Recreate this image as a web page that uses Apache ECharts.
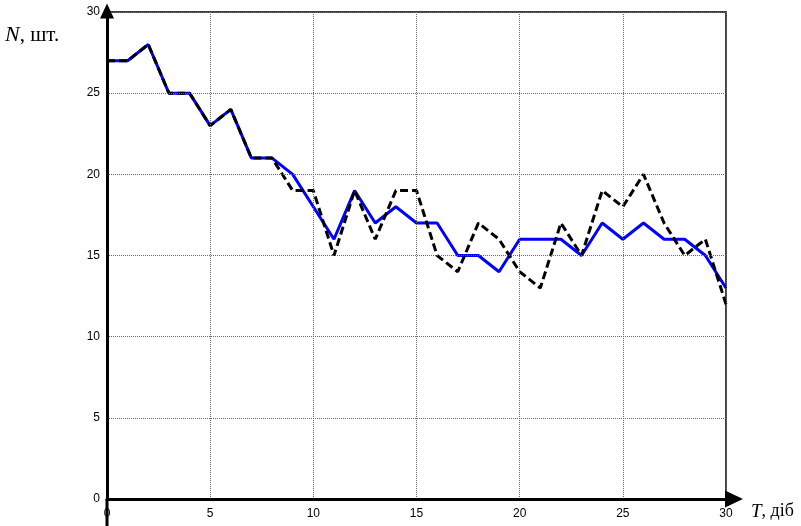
<!DOCTYPE html>
<html>
<head>
<meta charset="utf-8">
<script src="https://cdn.jsdelivr.net/npm/echarts@6/dist/echarts.min.js"></script>
<style>
  html, body { margin: 0; padding: 0; background: #fff; }
  #chart { width: 801px; height: 526px; }
</style>
</head>
<body>
<div id="chart"></div>
<script>
// Days of observation
const days = [0, 1, 2, 3, 4, 5, 6, 7, 8, 9, 10, 11, 12, 13, 14, 15, 16, 17, 18, 19, 20,
              21, 22, 23, 24, 25, 26, 27, 28, 29, 30];
// Smoothed count (solid blue)
const modelCount = [27, 27, 28, 25, 25, 23, 24, 21, 21, 20, 18, 16, 19, 17, 18, 17, 17, 15, 15, 14, 16,
                    16, 16, 15, 17, 16, 17, 16, 16, 15, 13];
// Observed count (black dashed)
const observedCount = [27, 27, 28, 25, 25, 23, 24, 21, 21, 19, 19, 15, 19, 16, 19, 19, 15, 14, 17, 16, 14,
                       13, 17, 15, 19, 18, 20, 17, 15, 16, 12];
// Axis settings
const xTicks = { min: 0, max: 30, interval: 5 };
const yTicks = { min: 0, max: 30, interval: 5 };

const chart = echarts.init(document.getElementById('chart'), null, { renderer: 'canvas' });

const labelFont = { color: '#000', fontFamily: 'Liberation Sans, Arial, sans-serif', fontSize: 12 };
const gridLine = { show: true, lineStyle: { color: '#666', width: 1, type: [1, 1] } };
// Thin frame on the top and right sides
const frameAxis = {
  type: 'value',
  axisLine: { show: true, onZero: false, lineStyle: { color: '#000', width: 1.5 } },
  axisTick: { show: false },
  axisLabel: { show: false },
  splitLine: { show: false },
  z: 6
};

chart.setOption({
  animation: false,
  backgroundColor: '#fff',
  grid: { left: 107, right: 75, top: 12, bottom: 27 },
  xAxis: [
    {
      type: 'value',
      min: xTicks.min, max: xTicks.max, interval: xTicks.interval,
      axisLine: { show: true, onZero: false, lineStyle: { color: '#000', width: 3 },
                  symbol: ['none', 'triangle'], symbolSize: [17, 18], symbolOffset: [0, 8] },
      axisTick: { show: false },
      axisLabel: Object.assign({ margin: 9, showMinLabel: true, showMaxLabel: true }, labelFont),
      splitLine: gridLine,
      z: 7
    },
    Object.assign({ position: 'top', min: xTicks.min, max: xTicks.max }, frameAxis)
  ],
  yAxis: [
    {
      type: 'value',
      min: yTicks.min, max: yTicks.max, interval: yTicks.interval,
      axisLine: { show: true, onZero: false, lineStyle: { color: '#000', width: 3 },
                  symbol: ['none', 'triangle'], symbolSize: [14, 15], symbolOffset: [0, 1] },
      axisTick: { show: false },
      axisLabel: Object.assign({ margin: 7, showMinLabel: true, showMaxLabel: true }, labelFont),
      splitLine: gridLine,
      z: 7
    },
    Object.assign({ position: 'right', min: yTicks.min, max: yTicks.max }, frameAxis)
  ],
  series: [
    {
      type: 'line',
      data: days.map((d, i) => [d, modelCount[i]]),
      symbol: 'none',
      lineStyle: { color: '#0000ff', width: 3 },
      z: 3
    },
    {
      type: 'line',
      data: days.map((d, i) => [d, observedCount[i]]),
      symbol: 'none',
      lineStyle: { color: '#000', width: 3, type: [8, 4] },
      z: 4
    }
  ]
});

// Axis captions and the vertical axis running on below the origin
const origin = chart.convertToPixel({ xAxisIndex: 0, yAxisIndex: 0 }, [xTicks.min, yTicks.min]);
const xEnd = chart.convertToPixel({ xAxisIndex: 0, yAxisIndex: 0 }, [xTicks.max, yTicks.min]);
chart.setOption({
  graphic: [
    {
      type: 'line', z: 10,
      shape: { x1: origin[0], y1: origin[1], x2: origin[0], y2: 526 },
      style: { stroke: '#000', lineWidth: 3 }
    },
    {
      type: 'text', left: 5, top: 24, z: 10,
      style: {
        text: '{i|N}{r|, шт.}',
        rich: {
          i: { fontFamily: 'Liberation Serif, serif', fontStyle: 'italic', fontSize: 22, fill: '#000' },
          r: { fontFamily: 'Liberation Serif, serif', fontSize: 21, fill: '#000' }
        }
      }
    },
    {
      type: 'text', left: xEnd[0] + 25, top: 502, z: 10,
      style: {
        text: '{i|T}{r|, діб}',
        rich: {
          i: { fontFamily: 'Liberation Serif, serif', fontStyle: 'italic', fontSize: 19, fill: '#000' },
          r: { fontFamily: 'Liberation Serif, serif', fontSize: 18, fill: '#000' }
        }
      }
    }
  ]
});
</script>
</body>
</html>
